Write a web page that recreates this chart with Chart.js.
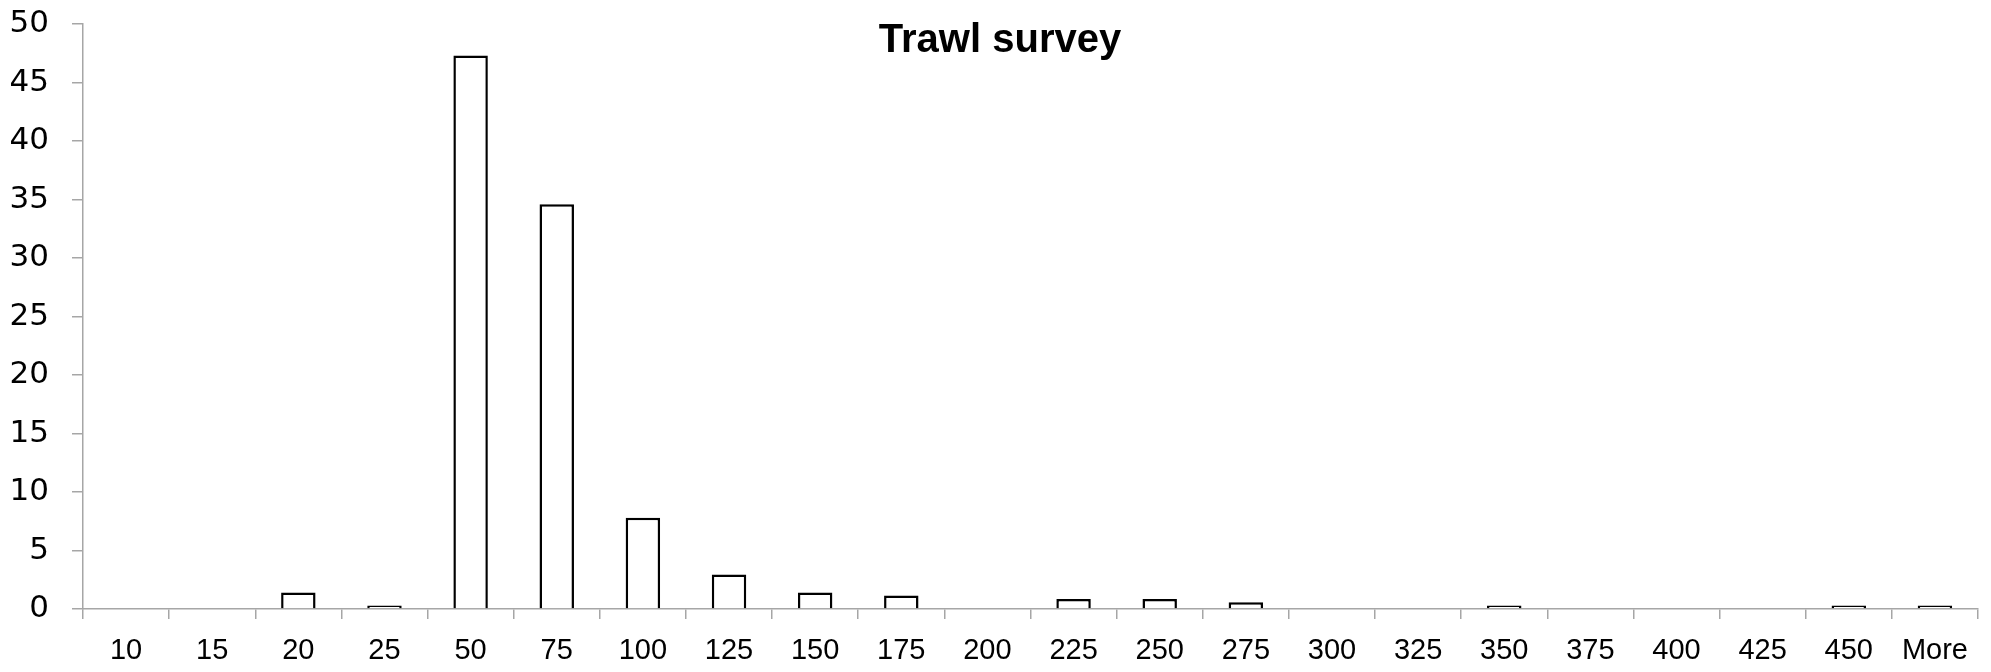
<!DOCTYPE html>
<html>
<head>
<meta charset="utf-8">
<script src="https://cdn.jsdelivr.net/npm/chart.js@4/dist/chart.umd.min.js"></script>
<style>
  html, body { margin: 0; padding: 0; background: #fff; }
  #wrap { width: 1991px; height: 672px; }
</style>
</head>
<body>
<div id="wrap"><canvas id="myCanvas" width="1991" height="672"></canvas></div>
<script>
// bins and percentage of fish in each bin
const categories = ['10', '15', '20', '25', '50', '75', '100', '125', '150', '175', '200',
  '225', '250', '275', '300', '325', '350', '375', '400', '425', '450', 'More'];
const percent = [0, 0, 1.4, 0.29, 47.3, 34.6, 7.8, 2.95, 1.4, 1.15, 0,
  0.86, 0.86, 0.58, 0, 0, 0.29, 0, 0, 0, 0.29, 0.29];
const yTicks = [0, 5, 10, 15, 20, 25, 30, 35, 40, 45, 50];
const chartTitle = 'Trawl survey';

const axisGray = '#a6a6a6';

// title sits inside the plot area, so draw it by hand
const titlePlugin = {
  id: 'insideTitle',
  afterDraw(chart) {
    const ctx = chart.ctx;
    ctx.save();
    ctx.font = 'bold 40px "Liberation Sans", Arial, sans-serif';
    ctx.fillStyle = '#000';
    ctx.textAlign = 'center';
    ctx.textBaseline = 'middle';
    ctx.fillText(chartTitle, 1000, 41);
    ctx.restore();
  }
};

const canvas = document.getElementById('myCanvas');
if (canvas) {
  const ctx = canvas.getContext('2d');
  new Chart(ctx, {
    type: 'bar',
    data: {
      labels: categories,
      datasets: [{
        data: percent,
        backgroundColor: '#ffffff',
        borderColor: '#000000',
        borderWidth: 2.5,
        barPercentage: 0.4,
        categoryPercentage: 1.0
      }]
    },
    options: {
      responsive: false,
      animation: false,
      devicePixelRatio: 1,
      layout: { padding: { top: 24, right: 13, left: 0, bottom: 0 } },
      plugins: {
        legend: { display: false },
        title: { display: false },
        tooltip: { enabled: false }
      },
      scales: {
        x: {
          grid: {
            display: true,
            offset: true,
            drawOnChartArea: false,
            drawTicks: true,
            tickLength: 10,
            color: axisGray,
            lineWidth: 1.5
          },
          border: { display: true, color: axisGray, width: 1.5 },
          ticks: {
            color: '#000',
            padding: 15,
            maxRotation: 0,
            autoSkip: false,
            font: { family: '"Liberation Sans", Arial, sans-serif', size: 29 }
          },
          afterFit(scale) { scale.height = 63; }
        },
        y: {
          min: 0,
          max: 50,
          afterBuildTicks(scale) { scale.ticks = yTicks.map(v => ({ value: v })); },
          grid: {
            display: true,
            drawOnChartArea: false,
            drawTicks: true,
            tickLength: 11,
            color: axisGray,
            lineWidth: 1.5
          },
          border: { display: true, color: axisGray, width: 1.5 },
          ticks: {
            color: '#000',
            padding: 23,
            font: { family: '"DejaVu Sans", Verdana, sans-serif', size: 31 }
          },
          afterFit(scale) {
            scale.width = 83;
            // top label may poke above the plot, as in the original
            scale.paddingTop = 0;
            scale.paddingBottom = 0;
          }
        }
      }
    },
    plugins: [titlePlugin]
  });
} else {
  console.error('Canvas element not found.');
}
</script>
</body>
</html>
